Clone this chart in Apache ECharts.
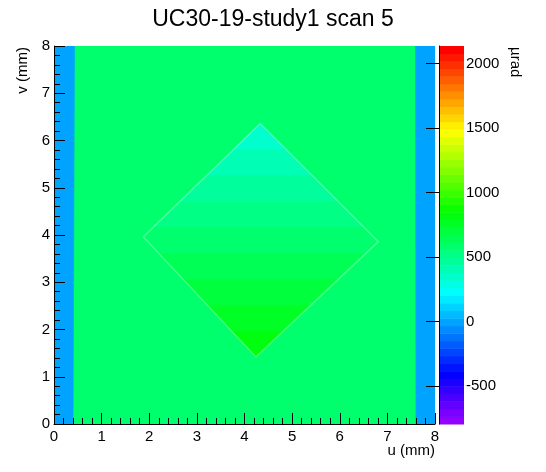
<!DOCTYPE html>
<html><head><meta charset="utf-8">
<script src="https://cdn.jsdelivr.net/npm/echarts@6/dist/echarts.min.js"></script>
<style>html,body{margin:0;padding:0;background:#fff}#c{width:546px;height:472px}</style>
</head><body><div id="c"></div><script>
// ---- data ----
const titleText = 'UC30-19-study1 scan 5';
const uAxisName = 'u (mm)';
const vAxisName = 'v (mm)';
const zAxisName = 'µrad';
const uRange = [0, 8];
const vRange = [0, 8];
const zRange = [-795, 2136];
const zTicks = [-500, 0, 500, 1000, 1500, 2000];
const nLevels = 50;

const backgroundArea = [[0, 0], [8, 0], [8, 8], [0, 8]];
const backgroundValue = 560;
const leftStrip = [[0, 0], [0.40, 0], [0.43, 8], [0, 8]];
const rightStrip = [[7.60, 0], [8, 0], [8, 8], [7.59, 8]];
const stripValue = 0;
const diamondCorners = [[4.33, 6.36], [6.81, 3.86], [4.24, 1.42], [1.875, 3.96]];
const diamondBandEdges = [6.36, 5.81, 5.26, 4.71, 4.16, 3.61, 3.06, 2.51, 1.96, 1.42];
const diamondBandValues = [350, 410, 465, 525, 600, 650, 700, 760, 815];

// ---- palette (ROOT pretty palette violet->red) ----
const palette = [];
for (let i = 0; i < nLevels; i++) {
  const h = i < nLevels - 1 ? 280 - (i + 1) * 5.6 : 0;
  palette.push('hsl(' + h + ',100%,50%)');
}
function colorFor(z) {
  let k = Math.floor((z - zRange[0]) / (zRange[1] - zRange[0]) * nLevels);
  k = Math.max(0, Math.min(nLevels - 1, k));
  return palette[k];
}

// clip polygon to lo <= v <= hi
function clipV(poly, lo, hi) {
  function clip(pts, inside, cross) {
    const out = [];
    for (let i = 0; i < pts.length; i++) {
      const a = pts[i], b = pts[(i + 1) % pts.length];
      const ia = inside(a), ib = inside(b);
      if (ia) out.push(a);
      if (ia !== ib) out.push(cross(a, b));
    }
    return out;
  }
  function crossAt(v) {
    return (a, b) => { const t = (v - a[1]) / (b[1] - a[1]); return [a[0] + t * (b[0] - a[0]), v]; };
  }
  let p = clip(poly, q => q[1] >= lo, crossAt(lo));
  p = clip(p, q => q[1] <= hi, crossAt(hi));
  return p;
}

const regions = [];
regions.push({ poly: backgroundArea, z: backgroundValue });
regions.push({ poly: leftStrip, z: stripValue });
regions.push({ poly: rightStrip, z: stripValue });
for (let i = 0; i < diamondBandValues.length; i++) {
  const hi = diamondBandEdges[i], lo = diamondBandEdges[i + 1];
  const p = clipV(diamondCorners, lo, hi);
  if (p.length > 2) regions.push({ poly: p, z: diamondBandValues[i] });
}
regions.push({ poly: diamondCorners, outline: true });
const regionData = regions.map((r, i) => [i]);
const levelData = palette.map((c, k) => [k]);

const FONT = 'Liberation Sans';
const chart = echarts.init(document.getElementById('c'), null, { renderer: 'canvas' });
const axisCommon = {
  type: 'value',
  axisLine: { show: true, lineStyle: { color: '#000', width: 1 } },
  axisTick: { show: true, inside: true, length: 11, lineStyle: { color: '#000' } },
  minorTick: { show: true, splitNumber: 5, length: 6, lineStyle: { color: '#000' } },
  splitLine: { show: false },
  axisLabel: { color: '#000', fontSize: 15, fontFamily: FONT },
  z: 10
};
chart.setOption({
  animation: false,
  backgroundColor: '#fff',
  title: {
    text: titleText, left: 'center', top: 3,
    textStyle: { fontSize: 23, fontWeight: 'normal', color: '#000', fontFamily: FONT }
  },
  grid: [
    { left: 54, top: 46, width: 381, height: 378, outerBoundsMode: 'none' },
    { left: 439, top: 46, width: 25, height: 378, outerBoundsMode: 'none' }
  ],
  xAxis: [
    Object.assign({}, axisCommon, { gridIndex: 0, min: uRange[0], max: uRange[1], interval: 1,
      axisLabel: Object.assign({}, axisCommon.axisLabel, { margin: 5 }) }),
    { type: 'value', gridIndex: 1, min: 0, max: 1, show: false }
  ],
  yAxis: [
    Object.assign({}, axisCommon, { gridIndex: 0, min: vRange[0], max: vRange[1], interval: 1,
      axisLabel: Object.assign({}, axisCommon.axisLabel, { margin: 4 }) }),
    {
      type: 'value', gridIndex: 1, position: 'right', min: zRange[0], max: zRange[1],
      axisLine: { show: true, lineStyle: { color: '#000', width: 1 } },
      axisTick: { show: true, inside: true, length: 13, customValues: zTicks, lineStyle: { color: '#000' } },
      axisLabel: { color: '#000', fontSize: 15, fontFamily: FONT, margin: 2, customValues: zTicks,
        formatter: v => String(v) },
      splitLine: { show: false },
      z: 10
    }
  ],
  graphic: [
    { type: 'text', x: 435, y: 451, style: { text: uAxisName, align: 'right', verticalAlign: 'middle',
      fontSize: 15, fontFamily: FONT, fill: '#000' } },
    { type: 'text', x: 23, y: 47, rotation: Math.PI / 2, style: { text: vAxisName, align: 'right', verticalAlign: 'middle',
      fontSize: 15, fontFamily: FONT, fill: '#000' } },
    { type: 'text', x: 515, y: 47, rotation: -Math.PI / 2, style: { text: zAxisName, align: 'left', verticalAlign: 'middle',
      fontSize: 15, fontFamily: FONT, fill: '#000' } }
  ],
  series: [
    {
      type: 'custom', xAxisIndex: 0, yAxisIndex: 0, data: regionData, z: 2, clip: true,
      encode: { x: -1, y: -1 },
      renderItem: function (params, api) {
        const r = regions[api.value(0)];
        const pts = r.poly.map(p => api.coord(p));
        if (r.outline) {
          return { type: 'polygon', shape: { points: pts },
            style: { fill: null, stroke: 'rgba(255,255,255,0.28)', lineWidth: 1.5 } };
        }
        const c = colorFor(r.z);
        return { type: 'polygon', shape: { points: pts }, style: { fill: c, stroke: c, lineWidth: 0.6 } };
      }
    },
    {
      type: 'custom', xAxisIndex: 1, yAxisIndex: 1, data: levelData, z: 2,
      encode: { x: -1, y: -1 },
      renderItem: function (params, api) {
        const k = api.value(0);
        const step = (zRange[1] - zRange[0]) / nLevels;
        const p0 = api.coord([0, zRange[0] + k * step]);
        const p1 = api.coord([1, zRange[0] + (k + 1) * step]);
        return { type: 'rect', shape: { x: p0[0], y: p1[1], width: p1[0] - p0[0], height: p0[1] - p1[1] + 0.5 },
          style: { fill: palette[k] } };
      }
    }
  ]
});
</script></body></html>
